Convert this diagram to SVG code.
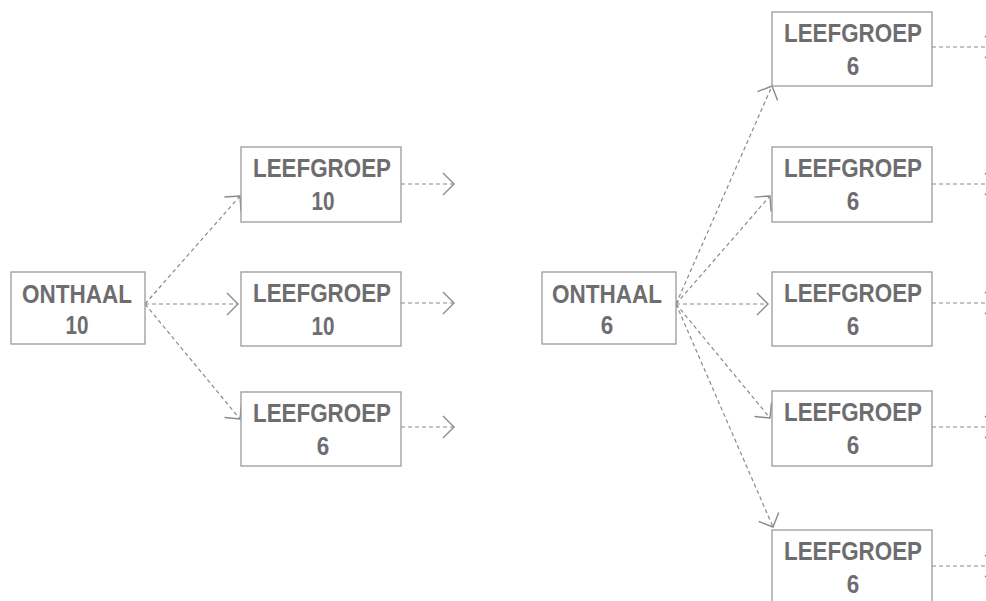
<svg xmlns="http://www.w3.org/2000/svg" width="986" height="601" viewBox="0 0 986 601">
<style>
.box{fill:#fff;stroke:#9a9a9a;stroke-width:1.3}
.t{font-family:"Liberation Sans",Arial,sans-serif;font-weight:bold;font-size:25px;fill:#6d6d6f;text-anchor:middle}
.c{fill:none;stroke:#8a8a8a;stroke-width:1.2;stroke-dasharray:4 3;marker-end:url(#ah)}
</style>
<defs>
<marker id="ah" markerUnits="userSpaceOnUse" markerWidth="14" markerHeight="24" viewBox="0 0 13 24" refX="12" refY="12" orient="auto">
<path d="M1,1 L12,12 L1,23" fill="none" stroke="#8a8a8a" stroke-width="1.4"/>
</marker>
</defs>
<rect width="986" height="601" fill="#fff"/>
<g id="connectors">
<line class="c" x1="145" y1="304" x2="240" y2="196"/>
<line class="c" x1="145" y1="304" x2="238" y2="304"/>
<line class="c" x1="145" y1="304" x2="240" y2="419"/>
<line class="c" x1="401" y1="184" x2="454" y2="184"/>
<line class="c" x1="401" y1="303" x2="454" y2="303"/>
<line class="c" x1="401" y1="427" x2="454" y2="427"/>
<line class="c" x1="676" y1="304" x2="772" y2="86"/>
<line class="c" x1="676" y1="304" x2="770" y2="196"/>
<line class="c" x1="676" y1="304" x2="768" y2="304"/>
<line class="c" x1="676" y1="304" x2="770" y2="418"/>
<line class="c" x1="676" y1="304" x2="773" y2="527"/>
<line class="c" x1="932" y1="47" x2="996" y2="47"/>
<line class="c" x1="932" y1="184" x2="996" y2="184"/>
<line class="c" x1="932" y1="303" x2="996" y2="303"/>
<line class="c" x1="932" y1="427" x2="996" y2="427"/>
<line class="c" x1="932" y1="566" x2="996" y2="566"/>
</g>
<g id="onthaal10">
<rect class="box" x="11" y="272" width="134" height="72"/>
<text class="t" x="77" y="303" textLength="110" lengthAdjust="spacingAndGlyphs">ONTHAAL</text>
<text class="t" x="77" y="334" textLength="23" lengthAdjust="spacingAndGlyphs">10</text>
</g>
<g id="lg10a">
<rect class="box" x="241" y="147" width="160" height="75"/>
<text class="t" x="322" y="177" textLength="138" lengthAdjust="spacingAndGlyphs">LEEFGROEP</text>
<text class="t" x="323" y="210" textLength="23" lengthAdjust="spacingAndGlyphs">10</text>
</g>
<g id="lg10b">
<rect class="box" x="241" y="272" width="160" height="74"/>
<text class="t" x="322" y="302" textLength="138" lengthAdjust="spacingAndGlyphs">LEEFGROEP</text>
<text class="t" x="323" y="335" textLength="23" lengthAdjust="spacingAndGlyphs">10</text>
</g>
<g id="lg6a">
<rect class="box" x="241" y="392" width="160" height="74"/>
<text class="t" x="322" y="422" textLength="138" lengthAdjust="spacingAndGlyphs">LEEFGROEP</text>
<text class="t" x="323" y="455" textLength="12.5" lengthAdjust="spacingAndGlyphs">6</text>
</g>
<g id="onthaal6">
<rect class="box" x="542" y="272" width="134" height="72"/>
<text class="t" x="607" y="303" textLength="110" lengthAdjust="spacingAndGlyphs">ONTHAAL</text>
<text class="t" x="607" y="334" textLength="12.5" lengthAdjust="spacingAndGlyphs">6</text>
</g>
<g id="lg6b">
<rect class="box" x="772" y="12" width="160" height="74"/>
<text class="t" x="853" y="42" textLength="138" lengthAdjust="spacingAndGlyphs">LEEFGROEP</text>
<text class="t" x="853" y="75" textLength="12.5" lengthAdjust="spacingAndGlyphs">6</text>
</g>
<g id="lg6c">
<rect class="box" x="772" y="147" width="160" height="75"/>
<text class="t" x="853" y="177" textLength="138" lengthAdjust="spacingAndGlyphs">LEEFGROEP</text>
<text class="t" x="853" y="210" textLength="12.5" lengthAdjust="spacingAndGlyphs">6</text>
</g>
<g id="lg6d">
<rect class="box" x="772" y="272" width="160" height="74"/>
<text class="t" x="853" y="302" textLength="138" lengthAdjust="spacingAndGlyphs">LEEFGROEP</text>
<text class="t" x="853" y="335" textLength="12.5" lengthAdjust="spacingAndGlyphs">6</text>
</g>
<g id="lg6e">
<rect class="box" x="772" y="391" width="160" height="75"/>
<text class="t" x="853" y="421" textLength="138" lengthAdjust="spacingAndGlyphs">LEEFGROEP</text>
<text class="t" x="853" y="454" textLength="12.5" lengthAdjust="spacingAndGlyphs">6</text>
</g>
<g id="lg6f">
<rect class="box" x="772" y="530" width="160" height="75"/>
<text class="t" x="853" y="560" textLength="138" lengthAdjust="spacingAndGlyphs">LEEFGROEP</text>
<text class="t" x="853" y="593" textLength="12.5" lengthAdjust="spacingAndGlyphs">6</text>
</g>
</svg>
